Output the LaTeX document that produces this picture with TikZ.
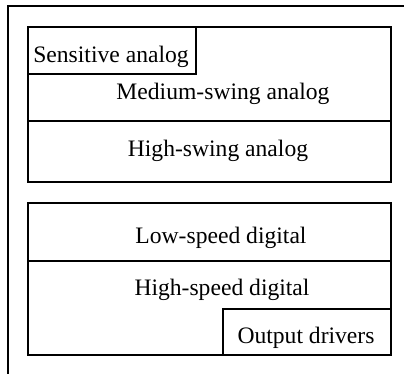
\documentclass[tikz,border=0pt]{standalone}
\usepackage{fontspec}
\setmainfont{Liberation Serif}
\begin{document}
\begin{tikzpicture}[x=1pt,y=-1pt,
  frame/.style={draw=black,line width=1.3pt},
  outer/.style={draw=black,line width=1.8pt},
  lbl/.style={font=\fontsize{23.6}{27}\selectfont,inner sep=0pt,anchor=base}]
\useasboundingbox (0,0) rectangle (404,374);
% outer frame (right and bottom sides run off the page)
\draw[outer] (412,380) -- (8,380) -- (8,6) -- (412,6);
% analog group
\draw[frame] (28,27) rectangle (391,182);
\draw[frame] (28,74) -- (196,74) -- (196,27);
\draw[frame] (28,121) -- (391,121);
\node[lbl] (sens) at (111,63) {Sensitive analog};
\node[lbl] (med) at (223,100) {Medium-swing analog};
\node[lbl] (high) at (218,157) {High-swing analog};
% digital group
\draw[frame] (28,203) rectangle (391,355);
\draw[frame] (28,261) -- (391,261);
\draw[frame] (223,355) -- (223,309) -- (391,309);
\node[lbl] (low) at (221,243) {Low-speed digital};
\node[lbl] (hsd) at (222,295) {High-speed digital};
\node[lbl] (out) at (306,343) {Output drivers};
\end{tikzpicture}
\end{document}
